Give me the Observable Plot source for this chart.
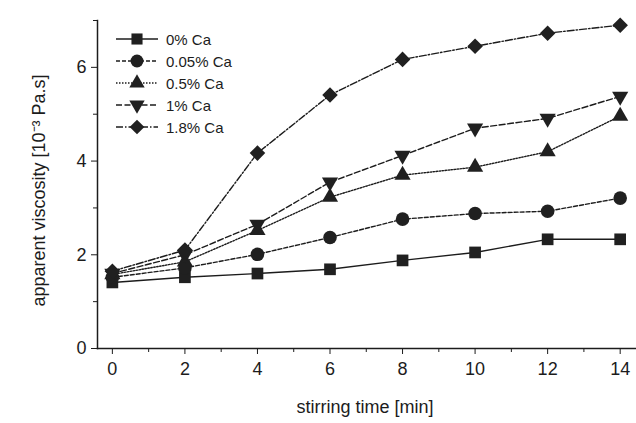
<!DOCTYPE html>
<html><head><meta charset="utf-8">
<script src="https://cdn.jsdelivr.net/npm/d3@7"></script>
<script src="https://cdn.jsdelivr.net/npm/@observablehq/plot@0.6"></script>
<style>
body{margin:0;background:#fff;}
#wrap{position:relative;width:636px;height:423px;font-family:"Liberation Sans",Arial,sans-serif;}
#legend{position:absolute;left:112px;top:28px;}
</style></head>
<body><div id="wrap"><div id="legend"></div></div>
<script>
const times = [0, 2, 4, 6, 8, 10, 12, 14];
const seriesNames = ["0% Ca", "0.05% Ca", "0.5% Ca", "1% Ca", "1.8% Ca"];
const ca0   = [1.41, 1.52, 1.60, 1.69, 1.88, 2.05, 2.33, 2.33];
const ca005 = [1.52, 1.72, 2.01, 2.37, 2.76, 2.88, 2.93, 3.21];
const ca05  = [1.58, 1.85, 2.52, 3.23, 3.70, 3.87, 4.20, 4.96];
const ca1   = [1.60, 2.00, 2.65, 3.55, 4.12, 4.70, 4.91, 5.38];
const ca18  = [1.65, 2.10, 4.17, 5.41, 6.17, 6.45, 6.73, 6.90];
const yMajor = [0, 2, 4, 6];
const yMinor = [1, 3, 5, 7];
const xMajor = [0, 2, 4, 6, 8, 10, 12, 14];
const xMinor = [1, 3, 5, 7, 9, 11, 13];

const triDown = {draw(ctx, size){ const s = Math.sqrt(size/ (Math.sqrt(3)/4)); const h = s*Math.sqrt(3)/2;
  ctx.moveTo(-s/2, -h/3); ctx.lineTo(s/2, -h/3); ctx.lineTo(0, 2*h/3); ctx.closePath(); }};
const triUp = {draw(ctx, size){ const s = Math.sqrt(size/ (Math.sqrt(3)/4)); const h = s*Math.sqrt(3)/2;
  ctx.moveTo(-s/2, h/3); ctx.lineTo(s/2, h/3); ctx.lineTo(0, -2*h/3); ctx.closePath(); }};
const diamond = {draw(ctx, size){ const a = Math.sqrt(size/2);
  ctx.moveTo(0, -a); ctx.lineTo(a, 0); ctx.lineTo(0, a); ctx.lineTo(-a, 0); ctx.closePath(); }};

const allVals = [ca0, ca005, ca05, ca1, ca18];
const symbols = ["square", "circle", triUp, triDown, diamond];
const dashes = [null, "4,2", "1.5,1.5", "6,2.5", "7,2,1.5,2"];
const radii = [6.6, 6.8, 6.0, 6.0, 6.2];
const ink = "#1c1c1c";

const data = [];
seriesNames.forEach((n, i) => times.forEach((t, j) => data.push({series: n, idx: i, t, v: allVals[i][j]})));

const marks = [
  Plot.frame({anchor: "left", stroke: ink, strokeWidth: 1.5}),
  Plot.frame({anchor: "bottom", stroke: ink, strokeWidth: 1.5}),
  Plot.axisY({ticks: yMajor, tickSize: 6, tickPadding: 5, fontSize: 18, tickFormat: "d", label: null, color: ink}),
  Plot.axisY({ticks: yMinor, tickSize: 4, tickFormat: () => "", label: null, color: ink}),
  Plot.axisX({ticks: xMajor, tickSize: 6, tickPadding: 8, fontSize: 18, tickFormat: "d", label: null, color: ink}),
  Plot.axisX({ticks: xMinor, tickSize: 4, tickFormat: () => "", label: null, color: ink}),
];
seriesNames.forEach((n, i) => {
  const d = data.filter(r => r.idx === i);
  marks.push(Plot.line(d, {x: "t", y: "v", stroke: ink, strokeWidth: 1.4, strokeDasharray: dashes[i]}));
});
seriesNames.forEach((n, i) => {
  const d = data.filter(r => r.idx === i);
  marks.push(Plot.dot(d, {x: "t", y: "v", symbol: symbols[i], r: radii[i], fill: "#202020", stroke: "none"}));
});

const plot = Plot.plot({
  width: 636, height: 423,
  marginLeft: 97, marginRight: 0, marginTop: 20, marginBottom: 75,
  x: {domain: [-0.41, 14.45]},
  y: {domain: [0, 7]},
  style: {fontFamily: "Liberation Sans, Arial, sans-serif", background: "#fff"},
  marks: marks.concat([
    Plot.text(["stirring time [min]"], {frameAnchor: "bottom", dy: 64, dx: -2, fontSize: 18, fill: ink}),
    Plot.text(["apparent viscosity [10⁻³ Pa.s]"], {frameAnchor: "left", textAnchor: "middle", dx: -58, dy: 6, rotate: -90, fontSize: 18, fill: ink})
  ])
});
document.getElementById("wrap").prepend(plot);

// legend
const leg = d3.select("#legend");
const symGen = [d3.symbolSquare, d3.symbolCircle, triUp, triDown, diamond];
seriesNames.forEach((n, i) => {
  const row = leg.append("div").style("display", "flex").style("align-items", "center").style("height", "22px");
  const svg = row.append("svg").attr("width", 50).attr("height", 22);
  svg.append("line").attr("x1", 4).attr("x2", 46).attr("y1", 11).attr("y2", 11)
    .attr("stroke", ink).attr("stroke-width", 1.3).attr("stroke-dasharray", dashes[i]);
  const sz = Math.PI * radii[i] * radii[i] * 0.9;
  svg.append("path").attr("transform", "translate(25,11)").attr("d", d3.symbol(symGen[i], sz)()).attr("fill", "#202020");
  row.append("span").text(n).style("font-size", "15px").style("color", ink).style("margin-left", "4px");
});
</script></body></html>
